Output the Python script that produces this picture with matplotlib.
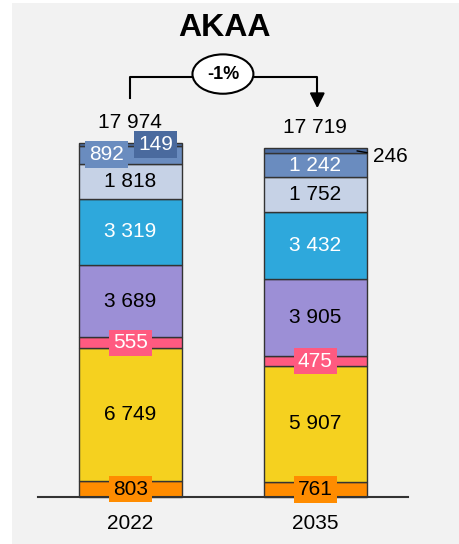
import matplotlib.pyplot as plt
from matplotlib.patches import Rectangle

plt.rcParams['font.family'] = ['Liberation Sans', 'DejaVu Sans']

# data
years = ['2022', '2035']
totals = [17974, 17719]
seg_colors = ['#ff8c00', '#f5d11f', '#ff5a80', '#9c8fd6', '#2ea8dc', '#c6d2e6', '#6a8cbf', '#4a6a9e']
vals_2022 = [803, 6749, 555, 3689, 3319, 1818, 892, 149]
vals_2035 = [761, 5907, 475, 3905, 3432, 1752, 1242, 246]
txt_colors = ['black', 'black', 'white', 'black', 'white', 'black', 'white', 'white']
boxed = [True, False, True, False, False, False, True, True]
change = '-1%'
title = 'AKAA'

def fmt(v):
    return f"{v:,}".replace(",", " ")

fig = plt.figure(figsize=(4.59, 5.44), dpi=100)
fig.patch.set_facecolor('white')
fig.patches.append(Rectangle((12/459, 0), 1, 541/544, transform=fig.transFigure,
                             facecolor='#f2f2f2', edgecolor='none', zorder=-10))
ax = fig.add_axes([0, 0, 1, 1])
ax.set_facecolor('none')
ax.set_xlim(-0.705, 1.776)
ax.set_ylim(-2386, 25235)
ax.axis('off')

width = 0.557
for i, vals in enumerate([vals_2022, vals_2035]):
    bottom = 0
    for j, v in enumerate(vals):
        ax.bar(i, v, width, bottom=bottom, color=seg_colors[j], edgecolor='#333333', linewidth=1)
        yc = bottom + v / 2
        dx = 0
        if i == 0 and j == 6:
            dx = -0.13
        if i == 0 and j == 7:
            dx = 0.135
        if i == 1 and j == 7:
            ax.annotate(fmt(v), xy=(i + 0.21, yc), xytext=(i + 0.31, yc - 320),
                        fontsize=15, va='center', ha='left', color='black',
                        arrowprops=dict(arrowstyle='-', color='black', lw=1))
        else:
            bb = None
            if boxed[j] and not (i == 1 and j == 6):
                bb = dict(boxstyle='square,pad=0.18', facecolor=seg_colors[j], edgecolor='none')
            ax.text(i + dx, yc, fmt(v), ha='center', va='center', fontsize=15,
                    color=txt_colors[j], bbox=bb, zorder=6)
        bottom += v
    ax.annotate(fmt(totals[i]), xy=(i, totals[i]), xytext=(0, 8), textcoords='offset points',
                ha='center', va='bottom', fontsize=15)
    ax.annotate(years[i], xy=(i, 0), xytext=(0, -19), textcoords='offset points',
                ha='center', va='center', fontsize=15)

ax.plot([-0.5, 1.5], [0, 0], color='#333333', lw=1.5, zorder=5)

# bracket with change
y_top = 21325
ax.plot([0, 0, 1.01, 1.01], [20259, y_top, y_top, 20500], color='black', lw=1.5)
ax.annotate('', xy=(1.01, 19600), xytext=(1.01, 20600),
            arrowprops=dict(arrowstyle='-|>,head_width=0.45,head_length=0.9', color='black', lw=1.5))
ax.text(0.5, y_top + 150, change, ha='center', va='center', fontsize=13, fontweight='bold',
        bbox=dict(boxstyle='ellipse,pad=0.3', facecolor='white', edgecolor='black', lw=1.5))

fig.text(0.49, 1 - 28/544, title, ha='center', va='center', fontsize=23, fontweight='bold')

fig.savefig('out.png', dpi=100, facecolor=fig.get_facecolor())
